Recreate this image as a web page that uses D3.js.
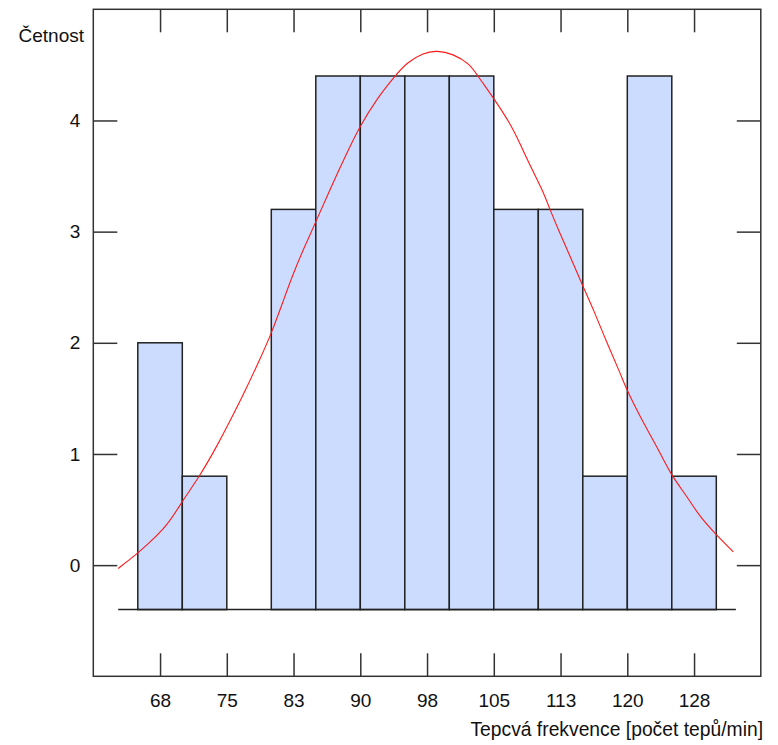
<!DOCTYPE html>
<html>
<head>
<meta charset="utf-8">
<script src="https://cdn.jsdelivr.net/npm/d3@7"></script>
<style>
  body { margin: 0; background: #fff; }
  svg text { font-family: "Liberation Sans", Arial, sans-serif; fill: #111; }
</style>
</head>
<body>
<div id="chart"></div>
<script>
// histogram bins (lower edges, bin width 5 bpm) and bar tops as drawn
var binStarts = [65, 70, 75, 80, 85, 90, 95, 100, 105, 110, 115, 120, 125];
var binWidth = 5;
var barTops = [2.0, 0.8, null, 3.2, 4.4, 4.4, 4.4, 4.4, 3.2, 3.2, 0.8, 4.4, 0.8];
var barBase = -0.4;
var baseLineFrom = 62.8, baseLineTo = 132.2;

// fitted normal curve
var curveX = [62.8, 64.9, 66.0, 68.3, 70.1, 71.8, 73.9, 75.7, 77.2, 78.7, 79.9, 81.4, 82.5, 83.6, 84.9, 86.6,
    88.5, 89.9, 91.8, 93.9, 95.2, 97.1, 98.6, 100.4, 102.3, 103.2, 104.9, 106.8, 107.9, 109.1, 110.5, 111.3,
    112.4, 113.4, 115.0, 116.2, 117.7, 119.2, 119.9, 121.8, 123.7, 125.0, 126.7, 128.1, 129.8, 131.9];
var curveY = [-0.03, 0.10, 0.18, 0.35, 0.59, 0.78, 1.07, 1.35, 1.59, 1.85, 2.06, 2.39, 2.63, 2.84, 3.07, 3.38,
    3.71, 3.94, 4.19, 4.40, 4.52, 4.61, 4.63, 4.60, 4.51, 4.40, 4.21, 3.98, 3.80, 3.59, 3.37, 3.20,
    2.99, 2.81, 2.51, 2.30, 2.00, 1.73, 1.58, 1.28, 1.01, 0.80, 0.62, 0.44, 0.29, 0.12];

var xTicks = [67.5, 75, 82.5, 90, 97.5, 105, 112.5, 120, 127.5];
var xTickLabels = ["68", "75", "83", "90", "98", "105", "113", "120", "128"];
var yTicks = [0, 1, 2, 3, 4];

var W = 778, H = 745;
var fLeft = 93.3, fRight = 760.8, fTop = 9.3, fBottom = 676.3;
var lineCol = "#333";

var svg = d3.select("#chart").append("svg")
    .attr("width", W)
    .attr("height", H);

var x = d3.scaleLinear().domain([60, 135]).range([fLeft, fRight]);
var y = d3.scaleLinear().domain([-1, 5]).range([fBottom, fTop]);

// bars
var bars = binStarts.map(function (b, i) { return {x0: b, top: barTops[i]}; })
    .filter(function (d) { return d.top != null; });
svg.append("g").selectAll("rect")
    .data(bars)
    .enter()
    .append("rect")
    .attr("x", function (d) { return x(d.x0); })
    .attr("y", function (d) { return y(d.top); })
    .attr("width", function (d) { return x(d.x0 + binWidth) - x(d.x0); })
    .attr("height", function (d) { return y(barBase) - y(d.top); })
    .attr("fill", "#ccdcff")
    .attr("stroke", "#222")
    .attr("stroke-width", 1.5);

// base line under bars
svg.append("line")
    .attr("x1", x(baseLineFrom)).attr("x2", x(baseLineTo))
    .attr("y1", y(barBase)).attr("y2", y(barBase))
    .attr("stroke", "#222")
    .attr("stroke-width", 1.5);

// normal curve
var line = d3.line()
    .x(function (d) { return x(d[0]); })
    .y(function (d) { return y(d[1]); })
    .curve(d3.curveBasis);
svg.append("path")
    .datum(d3.zip(curveX, curveY))
    .attr("d", line)
    .attr("fill", "none")
    .attr("stroke", "#ff1a1a")
    .attr("stroke-width", 1.1);

// axes with inward ticks
function styleAxis(g) {
    g.select(".domain").remove();
    g.selectAll(".tick line").attr("stroke", lineCol).attr("stroke-width", 1.5);
    g.selectAll(".tick text").style("font-size", "19px").attr("fill", "#111")
        .style("font-family", "'Liberation Sans', Arial, sans-serif");
}

svg.append("g")
    .attr("transform", "translate(0," + fBottom + ")")
    .call(d3.axisBottom(x).tickValues(xTicks).tickSize(-23).tickPadding(17)
        .tickFormat(function (d, i) { return xTickLabels[i]; }))
    .call(styleAxis);

svg.append("g")
    .attr("transform", "translate(0," + fTop + ")")
    .call(d3.axisTop(x).tickValues(xTicks).tickSize(-23).tickFormat(""))
    .call(styleAxis);

svg.append("g")
    .attr("transform", "translate(" + fLeft + ",0)")
    .call(d3.axisLeft(y).tickValues(yTicks).tickSize(-24).tickPadding(13)
        .tickFormat(d3.format("d")))
    .call(styleAxis);

svg.append("g")
    .attr("transform", "translate(" + fRight + ",0)")
    .call(d3.axisRight(y).tickValues(yTicks).tickSize(-24).tickFormat(""))
    .call(styleAxis);

// frame
svg.append("rect")
    .attr("x", fLeft).attr("y", fTop)
    .attr("width", fRight - fLeft).attr("height", fBottom - fTop)
    .attr("fill", "none")
    .attr("stroke", lineCol)
    .attr("stroke-width", 1.5);

// titles
svg.append("text")
    .attr("x", 84).attr("y", 42)
    .attr("text-anchor", "end")
    .style("font-size", "19px")
    .text("Četnost");

svg.append("text")
    .attr("x", 763).attr("y", 736)
    .attr("text-anchor", "end")
    .style("font-size", "19.3px")
    .text("Tepcvá frekvence [počet tepů/min]");
</script>
</body>
</html>
